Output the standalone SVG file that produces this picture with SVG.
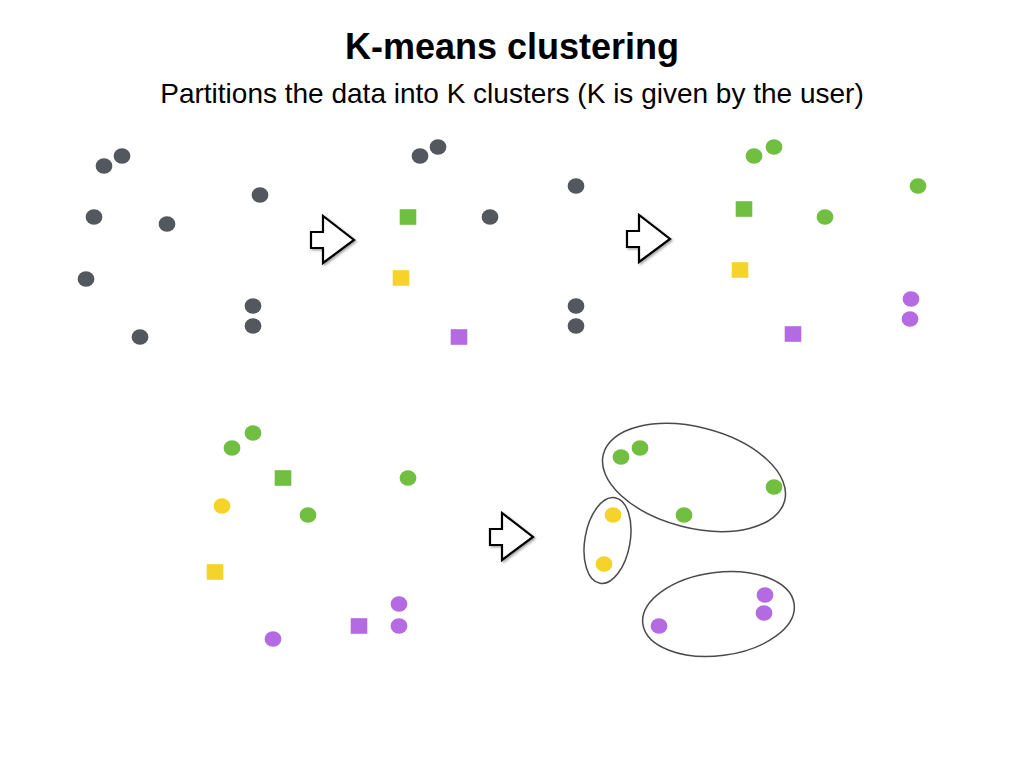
<svg xmlns="http://www.w3.org/2000/svg" xmlns:xlink="http://www.w3.org/1999/xlink" width="1024" height="768" viewBox="0 0 1024 768">
<style>
.title{font-family:"Liberation Sans",Arial,sans-serif;font-weight:bold;font-size:36px;fill:#000}
.sub{font-family:"Liberation Sans",Arial,sans-serif;font-size:28px;fill:#000}
.gray{fill:#53585f}
.green{fill:#70bf41}
.yellow{fill:#f5d328}
.purple{fill:#b36ae2}
.clu{fill:none;stroke:#4a4a4a;stroke-width:1.5}
.arr{fill:#fff;stroke:#000;stroke-width:2.2;stroke-linejoin:miter}
</style>
<defs>
<ellipse id="dot" cx="0" cy="0" rx="8.4" ry="7.7"/>
<rect id="sq" x="-8.3" y="-7.8" width="16.6" height="15.6"/>
<filter id="sh" x="-30%" y="-30%" width="160%" height="160%">
<feDropShadow dx="1.5" dy="1.5" stdDeviation="1.2" flood-color="#000" flood-opacity="0.35"/>
</filter>
<polygon id="arrow" points="0,-8 12,-8 12,-24 43,0 12,23 12,8 0,8"/>
</defs>
<rect width="1024" height="768" fill="#fff"/>
<text class="title" x="512" y="59" text-anchor="middle">K-means clustering</text>
<text class="sub" x="512" y="103" text-anchor="middle">Partitions the data into K clusters (K is given by the user)</text>

<g id="panel1">
<use href="#dot" class="gray" x="122" y="156"/>
<use href="#dot" class="gray" x="104" y="166"/>
<use href="#dot" class="gray" x="260" y="195"/>
<use href="#dot" class="gray" x="94" y="217"/>
<use href="#dot" class="gray" x="167" y="224"/>
<use href="#dot" class="gray" x="86" y="279"/>
<use href="#dot" class="gray" x="253" y="306"/>
<use href="#dot" class="gray" x="253" y="326"/>
<use href="#dot" class="gray" x="140" y="337"/>
</g>

<g id="panel2">
<use href="#dot" class="gray" x="438" y="147"/>
<use href="#dot" class="gray" x="420" y="156"/>
<use href="#dot" class="gray" x="576" y="186"/>
<use href="#sq" class="green" x="408" y="217"/>
<use href="#dot" class="gray" x="490" y="217"/>
<use href="#sq" class="yellow" x="401" y="278"/>
<use href="#dot" class="gray" x="576" y="306"/>
<use href="#dot" class="gray" x="576" y="326"/>
<use href="#sq" class="purple" x="459" y="337"/>
</g>

<g id="panel3">
<use href="#dot" class="green" x="774" y="147"/>
<use href="#dot" class="green" x="754" y="156"/>
<use href="#dot" class="green" x="918" y="186"/>
<use href="#sq" class="green" x="744" y="209"/>
<use href="#dot" class="green" x="825" y="217"/>
<use href="#sq" class="yellow" x="740" y="270"/>
<use href="#dot" class="purple" x="911" y="299"/>
<use href="#dot" class="purple" x="910" y="319"/>
<use href="#sq" class="purple" x="793" y="334"/>
</g>

<g id="panel4">
<use href="#dot" class="green" x="253" y="433"/>
<use href="#dot" class="green" x="232" y="448"/>
<use href="#sq" class="green" x="283" y="478"/>
<use href="#dot" class="green" x="408" y="478"/>
<use href="#dot" class="yellow" x="222" y="506"/>
<use href="#dot" class="green" x="308" y="515"/>
<use href="#sq" class="yellow" x="215" y="572"/>
<use href="#dot" class="purple" x="399" y="604"/>
<use href="#dot" class="purple" x="399" y="626"/>
<use href="#sq" class="purple" x="359" y="626"/>
<use href="#dot" class="purple" x="273" y="639"/>
</g>

<g id="panel5">
<g id="cluster-green">
<ellipse class="clu" cx="694" cy="477.5" rx="93.6" ry="50.3" transform="rotate(14.4 694 477.5)"/>
<use href="#dot" class="green" x="640" y="448"/>
<use href="#dot" class="green" x="621" y="457"/>
<use href="#dot" class="green" x="774" y="487"/>
<use href="#dot" class="green" x="684" y="515"/>
</g>
<g id="cluster-yellow">
<ellipse class="clu" cx="607.5" cy="540.5" rx="22.6" ry="43.5" transform="rotate(10 607.5 540.5)"/>
<use href="#dot" class="yellow" x="613" y="515"/>
<use href="#dot" class="yellow" x="604" y="564"/>
</g>
<g id="cluster-purple">
<ellipse class="clu" cx="718.5" cy="614" rx="76.3" ry="41.7" transform="rotate(-7.5 718.5 614)"/>
<use href="#dot" class="purple" x="765" y="595"/>
<use href="#dot" class="purple" x="764" y="613"/>
<use href="#dot" class="purple" x="659" y="626"/>
</g>
</g>

<g id="connectors">
<use href="#arrow" class="arr" filter="url(#sh)" transform="translate(311 240)"/>
<use href="#arrow" class="arr" filter="url(#sh)" transform="translate(627 239)"/>
<use href="#arrow" class="arr" filter="url(#sh)" transform="translate(490 537)"/>
</g>
</svg>
